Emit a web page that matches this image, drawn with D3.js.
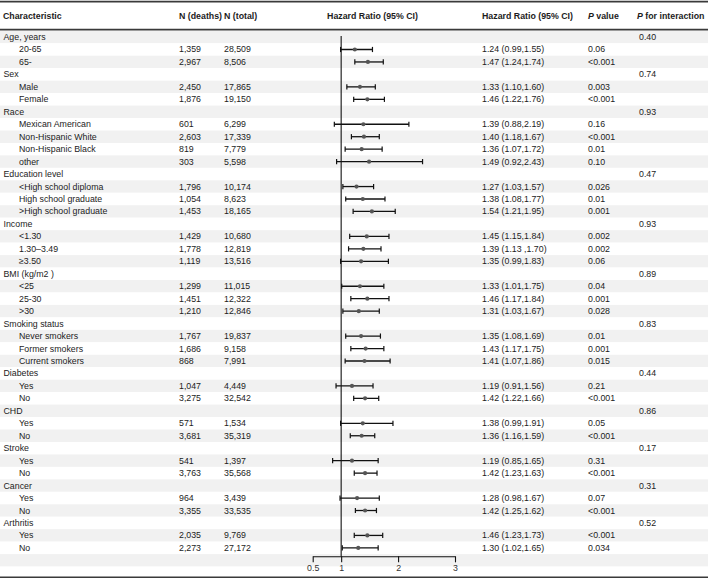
<!DOCTYPE html>
<html>
<head>
<meta charset="utf-8">
<script src="https://cdn.jsdelivr.net/npm/d3@7"></script>
<style>
  html, body { margin: 0; padding: 0; background: #fff; }
  svg { display: block; font-family: "Liberation Sans", Arial, sans-serif; }
</style>
</head>
<body>
<svg id="chart" width="708" height="580"></svg>
<script>
// ---------------- data ----------------
const labels = ["Age, years","20-65","65-","Sex","Male","Female","Race","Mexican American","Non-Hispanic White","Non-Hispanic Black","other",
  "Education level","<High school diploma","High school graduate",">High school graduate","Income","<1.30","1.30\u20133.49","\u22653.50",
  "BMI (kg/m2 )","<25","25-30",">30","Smoking status","Never smokers","Former smokers","Current smokers","Diabetes","Yes","No",
  "CHD","Yes","No","Stroke","Yes","No","Cancer","Yes","No","Arthritis","Yes","No"];
const isGroup = [1,0,0,1,0,0,1,0,0,0,0, 1,0,0,0,1,0,0,0, 1,0,0,0,1,0,0,0,1,0,0, 1,0,0,1,0,0,1,0,0,1,0,0];
const deaths = ["","1,359","2,967","","2,450","1,876","","601","2,603","819","303",
  "","1,796","1,054","1,453","","1,429","1,778","1,119",
  "","1,299","1,451","1,210","","1,767","1,686","868","","1,047","3,275",
  "","571","3,681","","541","3,763","","964","3,355","","2,035","2,273"];
const totals = ["","28,509","8,506","","17,865","19,150","","6,299","17,339","7,779","5,598",
  "","10,174","8,623","18,165","","10,680","12,819","13,516",
  "","11,015","12,322","12,846","","19,837","9,158","7,991","","4,449","32,542",
  "","1,534","35,319","","1,397","35,568","","3,439","33,535","","9,769","27,172"];
const hr = [null,1.24,1.47,null,1.33,1.46,null,1.39,1.40,1.36,1.49,
  null,1.27,1.38,1.54,null,1.45,1.39,1.35,
  null,1.33,1.46,1.31,null,1.35,1.43,1.41,null,1.19,1.42,
  null,1.38,1.36,null,1.19,1.42,null,1.28,1.42,null,1.46,1.30];
const lower = [null,0.99,1.24,null,1.10,1.22,null,0.88,1.18,1.07,0.92,
  null,1.03,1.08,1.21,null,1.15,1.13,0.99,
  null,1.01,1.17,1.03,null,1.08,1.17,1.07,null,0.91,1.22,
  null,0.99,1.16,null,0.85,1.23,null,0.98,1.25,null,1.23,1.02];
const upper = [null,1.55,1.74,null,1.60,1.76,null,2.19,1.67,1.72,2.43,
  null,1.57,1.77,1.95,null,1.84,1.70,1.83,
  null,1.75,1.84,1.67,null,1.69,1.75,1.86,null,1.56,1.66,
  null,1.91,1.59,null,1.65,1.63,null,1.67,1.62,null,1.73,1.65];
const hrText = ["","1.24 (0.99,1.55)","1.47 (1.24,1.74)","","1.33 (1.10,1.60)","1.46 (1.22,1.76)","","1.39 (0.88,2.19)","1.40 (1.18,1.67)","1.36 (1.07,1.72)","1.49 (0.92,2.43)",
  "","1.27 (1.03,1.57)","1.38 (1.08,1.77)","1.54 (1.21,1.95)","","1.45 (1.15,1.84)","1.39 (1.13 ,1.70)","1.35 (0.99,1.83)",
  "","1.33 (1.01,1.75)","1.46 (1.17,1.84)","1.31 (1.03,1.67)","","1.35 (1.08,1.69)","1.43 (1.17,1.75)","1.41 (1.07,1.86)","","1.19 (0.91,1.56)","1.42 (1.22,1.66)",
  "","1.38 (0.99,1.91)","1.36 (1.16,1.59)","","1.19 (0.85,1.65)","1.42 (1.23,1.63)","","1.28 (0.98,1.67)","1.42 (1.25,1.62)","","1.46 (1.23,1.73)","1.30 (1.02,1.65)"];
const pValue = ["","0.06","<0.001","","0.003","<0.001","","0.16","<0.001","0.01","0.10",
  "","0.026","0.01","0.001","","0.002","0.002","0.06",
  "","0.04","0.001","0.028","","0.01","0.001","0.015","","0.21","<0.001",
  "","0.05","<0.001","","0.31","<0.001","","0.07","<0.001","","<0.001","0.034"];
const pInteraction = ["0.40","","","0.74","","","0.93","","","","",
  "0.47","","","","0.93","","","",
  "0.89","","","","0.83","","","","0.44","","",
  "0.86","","","0.17","","","0.31","","","0.52","",""];
const xTicks = [0.5, 1, 2, 3];

// ---------------- layout ----------------
const W = 708, H = 580;
const svg = d3.select("#chart");
const nRows = labels.length + 2; // two extra rows for the axis
const rowTop = 30.8, rowH = 12.46;
const y = d3.scaleBand().domain(d3.range(nRows)).range([rowTop, rowTop + rowH * nRows]).paddingInner(0).paddingOuter(0);
const x = d3.scaleLinear().domain([0.5, 3]).range([312.7, 455]);
const textCol = "#1c1c1c";
const fs = 8.8;

// stripes
svg.append("g").selectAll("rect").data(d3.range(nRows)).join("rect")
  .attr("x", 0).attr("width", W)
  .attr("y", d => y(d)).attr("height", y.bandwidth())
  .attr("fill", d => d % 2 === 0 ? "#f1f1f1" : "#ffffff");

// header
const hdr = svg.append("g").attr("font-weight", "bold").attr("font-size", 8.8).attr("fill", textCol);
const hy = 16;
hdr.append("text").attr("x", 3).attr("y", hy).attr("dominant-baseline", "central").text("Characteristic");
hdr.append("text").attr("x", 179).attr("y", hy).attr("dominant-baseline", "central").text("N (deaths)");
hdr.append("text").attr("x", 224).attr("y", hy).attr("dominant-baseline", "central").text("N (total)");
hdr.append("text").attr("x", 372.5).attr("y", hy).attr("text-anchor", "middle").attr("dominant-baseline", "central").text("Hazard Ratio (95% CI)");
hdr.append("text").attr("x", 482).attr("y", hy).attr("dominant-baseline", "central").text("Hazard Ratio (95% CI)");
const pv = hdr.append("text").attr("x", 588).attr("y", hy).attr("dominant-baseline", "central");
pv.append("tspan").attr("font-style", "italic").text("P");
pv.append("tspan").text(" value");
const pi = hdr.append("text").attr("x", 637).attr("y", hy).attr("dominant-baseline", "central");
pi.append("tspan").attr("font-style", "italic").text("P");
pi.append("tspan").text(" for interaction");

// lines
svg.append("line").attr("x1", 0).attr("x2", W).attr("y1", 1.6).attr("y2", 1.6).attr("stroke", "#3a3a3a").attr("stroke-width", 1.6);
svg.append("line").attr("x1", 0).attr("x2", W).attr("y1", 29.6).attr("y2", 29.6).attr("stroke", "#3a3a3a").attr("stroke-width", 1.6);
svg.append("line").attr("x1", 0).attr("x2", W).attr("y1", 577.2).attr("y2", 577.2).attr("stroke", "#3a3a3a").attr("stroke-width", 1.6);

// body text
const rows = d3.range(labels.length);
const body = svg.append("g").attr("font-size", fs).attr("fill", textCol);
const cy = i => y(i) + y.bandwidth() / 2;
function col(arr, xp) {
  body.append("g").selectAll("text").data(rows.filter(i => arr[i] !== "")).join("text")
    .attr("x", typeof xp === "function" ? xp : () => xp)
    .attr("y", cy).attr("dominant-baseline", "central")
    .text(i => arr[i]);
}
col(labels, i => isGroup[i] ? 3.5 : 19);
col(deaths, 179);
col(totals, 224);
col(hrText, 482);
col(pValue, 588);
col(pInteraction, 639);

// forest
const axisY = y(labels.length) + 2.2;
svg.append("line").attr("x1", x(1)).attr("x2", x(1)).attr("y1", 36).attr("y2", axisY)
  .attr("stroke", "#111").attr("stroke-width", 1.1);

const ci = svg.append("g").selectAll("g").data(rows.filter(i => hr[i] !== null)).join("g");
ci.append("line").attr("x1", i => x(lower[i])).attr("x2", i => x(upper[i]))
  .attr("y1", cy).attr("y2", cy).attr("stroke", "#111").attr("stroke-width", 1.3);
ci.append("line").attr("x1", i => x(lower[i])).attr("x2", i => x(lower[i]))
  .attr("y1", i => cy(i) - 2.6).attr("y2", i => cy(i) + 2.6).attr("stroke", "#111").attr("stroke-width", 1.2);
ci.append("line").attr("x1", i => x(upper[i])).attr("x2", i => x(upper[i]))
  .attr("y1", i => cy(i) - 2.6).attr("y2", i => cy(i) + 2.6).attr("stroke", "#111").attr("stroke-width", 1.2);
ci.append("circle").attr("cx", i => x(hr[i])).attr("cy", cy).attr("r", 2.1).attr("fill", "#555");

// axis
const axis = d3.axisBottom(x).tickValues(xTicks).tickSize(6).tickSizeOuter(0).tickFormat(d => String(d));
const ag = svg.append("g").attr("transform", `translate(0,${axisY})`).call(axis);
ag.select(".domain").attr("stroke", "#111").attr("stroke-width", 1.1);
ag.selectAll(".tick line").attr("stroke", "#111").attr("stroke-width", 1.1);
ag.selectAll(".tick text").attr("font-size", 8.8).attr("fill", "#333").attr("dy", 0).attr("y", 12)
  .attr("dominant-baseline", "central").attr("font-family", "'Liberation Sans', Arial, sans-serif");
</script>
</body>
</html>
